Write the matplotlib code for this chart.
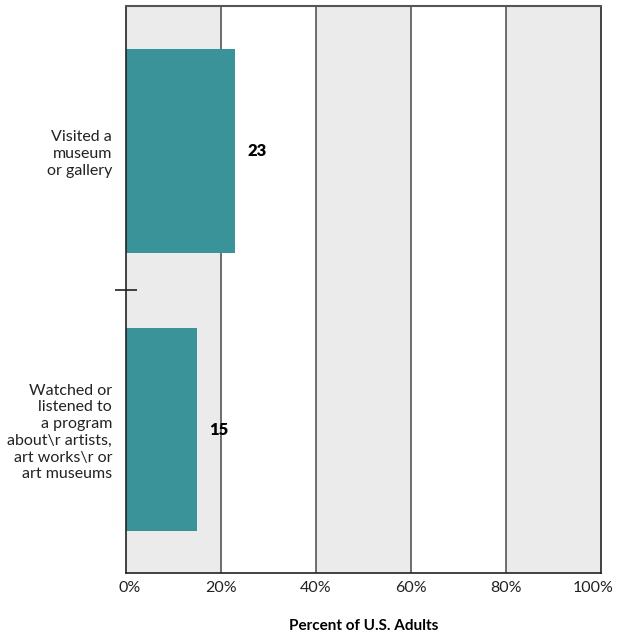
import matplotlib
matplotlib.use("Agg")
import matplotlib.pyplot as plt
import matplotlib.transforms as mtransforms
from matplotlib.ticker import FixedLocator

categories = ["Visited a\nmuseum\nor gallery",
              "Watched or\nlistened to\na program\nabout\\r artists,\nart works\\r or\nart museums"]
values = [23, 15]
xticks = [0, 20, 40, 60, 80, 100]
xtick_labels = ["0%", "20%", "40%", "60%", "80%", "100%"]

plt.rcParams['font.family'] = ['Lato', 'DejaVu Sans']

fig = plt.figure(figsize=(6.32, 6.33), dpi=100)
ax = fig.add_axes([126 / 632, 1 - 573 / 633, 475 / 632, 567 / 633])

# alternating bands
for i, x0 in enumerate(xticks[:-1]):
    if i % 2 == 0:
        ax.axvspan(x0, x0 + 20, color="#ebebeb", zorder=0, lw=0)
for x in xticks[1:-1]:
    ax.axvline(x, color="#555555", lw=1.2, zorder=1)

ypos = list(range(len(categories)))
ax.barh(ypos, values, height=0.73, color="#3a9398", zorder=2)
for y, v in zip(ypos, values):
    ax.text(v + 2.5, y, str(v), va="center", ha="left", fontsize=12,
            fontweight="heavy", color="black")

ax.set_xlim(0, 100)
ax.set_ylim(1.515, -0.52)
ax.set_xticks(xticks)
ax.set_xticklabels(xtick_labels, fontsize=11.5, color="#222222")
ax.set_yticks(ypos)
ax.set_yticklabels(categories, fontsize=11.5, color="#222222", linespacing=1.25)
ax.yaxis.set_minor_locator(FixedLocator([0.5]))
ax.tick_params(axis="y", which="major", length=0, pad=10)
ax.tick_params(axis="y", which="minor", direction="inout", length=16, width=1.2, color="#222222")
ax.tick_params(axis="x", length=0, pad=6)

# keep end labels inside the frame like the original
labels = ax.get_xticklabels()
labels[0].set_transform(labels[0].get_transform() +
                        mtransforms.ScaledTranslation(4 / 100, 0, fig.dpi_scale_trans))
labels[-1].set_transform(labels[-1].get_transform() +
                         mtransforms.ScaledTranslation(-8 / 100, 0, fig.dpi_scale_trans))

for s in ["left", "right", "bottom"]:
    ax.spines[s].set_color("#222222")
    ax.spines[s].set_linewidth(1.2)
ax.spines["top"].set_color("#555555")
ax.spines["top"].set_linewidth(1.5)

ax.set_xlabel("Percent of U.S. Adults", fontsize=11, fontweight="bold", labelpad=17)

fig.savefig("out.png", dpi=100)
